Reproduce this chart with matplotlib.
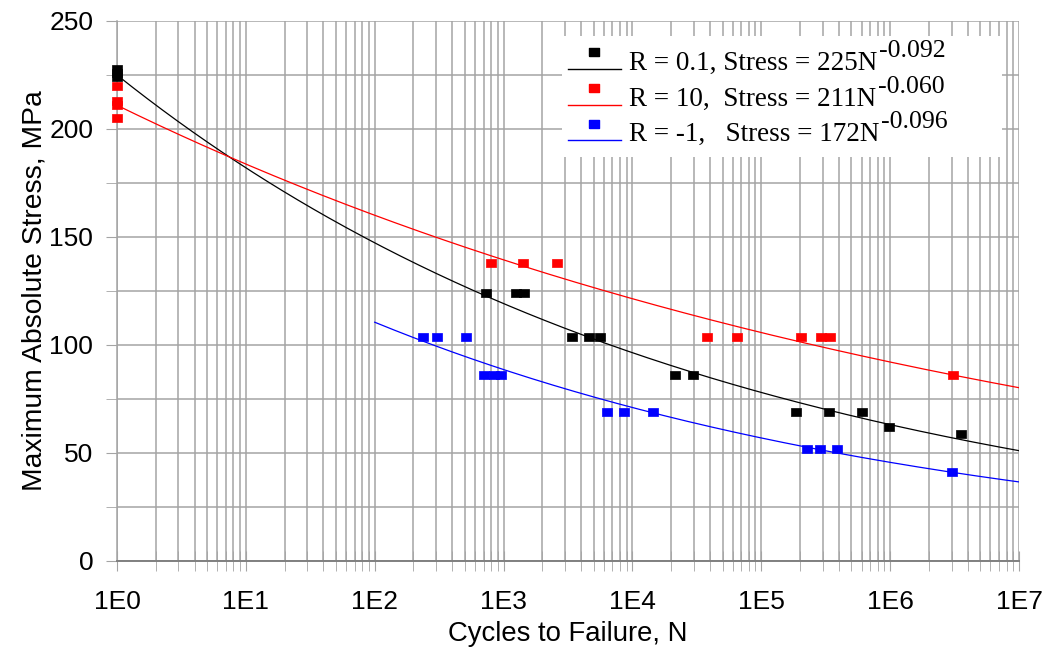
import numpy as np
import matplotlib.pyplot as plt
from matplotlib.legend_handler import HandlerLine2DCompound
from matplotlib.patches import Rectangle
from matplotlib.ticker import FixedLocator, MultipleLocator, FuncFormatter, NullFormatter

# R = 0.1 tests
r01_cycles = [1, 1, 1, 730, 1250, 1450, 3400, 4600, 5600, 21500, 29500,
              186000, 336000, 605000, 980000, 3550000]
r01_stress = [228, 226, 224, 124, 124, 124, 103.5, 103.5, 103.5, 86, 86,
              69, 69, 69, 62, 58.7]

# R = 10 tests
r10_cycles = [1, 1, 1, 1, 800, 1415, 2600, 37900, 64800, 203000, 290000,
              340000, 3070000]
r10_stress = [220, 213, 211, 205, 138, 138, 138, 103.5, 103.5, 103.5, 103.5,
              103.5, 86]

# R = -1 tests
rm1_cycles = [237, 304, 511, 710, 850, 950, 6350, 8600, 14400, 226000, 286000,
              387000, 3000000]
rm1_stress = [103.5, 103.5, 103.5, 86, 86, 86, 69, 69, 69, 51.7, 51.7,
              51.7, 41]

# power law fits: stress = A * N^b, drawn over [n_start, n_end]
fit_coef = [225, 211, 172]
fit_exp = [-0.092, -0.060, -0.096]
fit_start = [1, 1, 100]
fit_end = [1e7, 1e7, 1e7]

colors = ['black', '#ff0000', '#0000ff']
labels = ['R = 0.1, Stress = 225N', 'R = 10,  Stress = 211N', 'R = -1,   Stress = 172N']
exponents = ['-0.092', '-0.060', '-0.096']

decades = [1, 10, 100, 1e3, 1e4, 1e5, 1e6, 1e7]

# slightly wide square marker, like the spreadsheet one
box_marker = [(-1.2, -1), (1.2, -1), (1.2, 1), (-1.2, 1), (-1.2, -1)]


class OffsetMarkerHandler(HandlerLine2DCompound):
    # legend key with the marker sitting above the line
    def create_artists(self, legend, orig_handle, xdescent, ydescent,
                       width, height, fontsize, trans):
        artists = super().create_artists(legend, orig_handle, xdescent, ydescent,
                                         width, height, fontsize, trans)
        line, marker = artists
        line.set_ydata(np.asarray(line.get_ydata()) - 0.45 * height)
        marker.set_ydata(np.asarray(marker.get_ydata()) + 0.42 * height)
        return artists


def main():
    plt.rcParams['font.family'] = 'Liberation Sans'

    fig = plt.figure(figsize=(10.5, 6.52), dpi=100)
    ax = fig.add_axes([0.1114, 0.1396, 0.8591, 0.8282])

    series = [(r01_cycles, r01_stress), (r10_cycles, r10_stress), (rm1_cycles, rm1_stress)]
    handles = []
    for i, (n, s) in enumerate(series):
        nn = np.logspace(np.log10(fit_start[i]), np.log10(fit_end[i]), 300)
        ax.plot(nn, fit_coef[i] * nn ** fit_exp[i], color=colors[i], lw=0.9, zorder=3)
        ax.plot(n, s, ls='none', marker=box_marker, ms=7.4, color=colors[i],
                mec=colors[i], mew=0.5, zorder=4, clip_on=False)
        h, = ax.plot([], [], color=colors[i], lw=1.0, marker=box_marker, ms=7.0)
        handles.append(h)

    ax.set_xscale('log')
    ax.set_xlim(1, 1e7)
    ax.set_ylim(0, 250)

    minor_pos = [m * d for d in decades[:-1] for m in range(2, 10)]
    ax.xaxis.set_major_locator(FixedLocator(decades))
    ax.xaxis.set_minor_locator(FixedLocator(minor_pos))
    ax.xaxis.set_major_formatter(FuncFormatter(lambda v, p: f'1E{int(round(np.log10(v)))}'))
    ax.xaxis.set_minor_formatter(NullFormatter())
    ax.yaxis.set_major_locator(MultipleLocator(50))
    ax.yaxis.set_minor_locator(MultipleLocator(25))

    ax.grid(which='both', color='#a4a4a4', lw=1.1, zorder=0)
    ax.set_axisbelow(True)
    for side in ['top', 'right']:
        ax.spines[side].set_visible(False)
    ax.spines['left'].set_color('#a4a4a4')
    ax.spines['bottom'].set_color('#808080')
    ax.spines['left'].set_linewidth(1.1)
    ax.spines['bottom'].set_linewidth(1.4)

    ax.tick_params(axis='y', which='both', direction='out', length=8,
                   color='#a4a4a4', labelsize=19, pad=9)
    ax.tick_params(axis='x', which='both', direction='inout', length=14,
                   color='#a4a4a4', labelsize=19, pad=14)

    ax.set_xlabel('Cycles to Failure, N', fontsize=19.8, labelpad=5)
    ax.set_ylabel('Maximum Absolute Stress, MPa', fontsize=20.3, labelpad=1)

    # white legend area without a border, gridlines hidden behind it
    ax.add_patch(Rectangle((0.493, 0.748), 0.488, 0.224, transform=ax.transAxes,
                           facecolor='white', edgecolor='none', zorder=2))

    leg = ax.legend(handles, labels, loc='upper left', bbox_to_anchor=(0.5, 0.945),
                    prop={'family': 'Liberation Serif', 'size': 19.5},
                    handler_map={h: OffsetMarkerHandler() for h in handles},
                    frameon=False, borderpad=0, borderaxespad=0,
                    labelspacing=0.4, handlelength=1.95, handletextpad=0.3)
    leg.set_zorder(5)

    # superscript exponents placed right after each legend label
    fig.canvas.draw()
    renderer = fig.canvas.get_renderer()
    for txt, expo in zip(leg.get_texts(), exponents):
        bb = txt.get_window_extent(renderer)
        fig.text((bb.x1 + 2) / fig.bbox.width, (bb.y0 + 19) / fig.bbox.height, expo,
                 family='Liberation Serif', fontsize=18.5, va='baseline', ha='left',
                 zorder=6)

    fig.savefig('out.png', dpi=100)


if __name__ == "__main__":
    main()
